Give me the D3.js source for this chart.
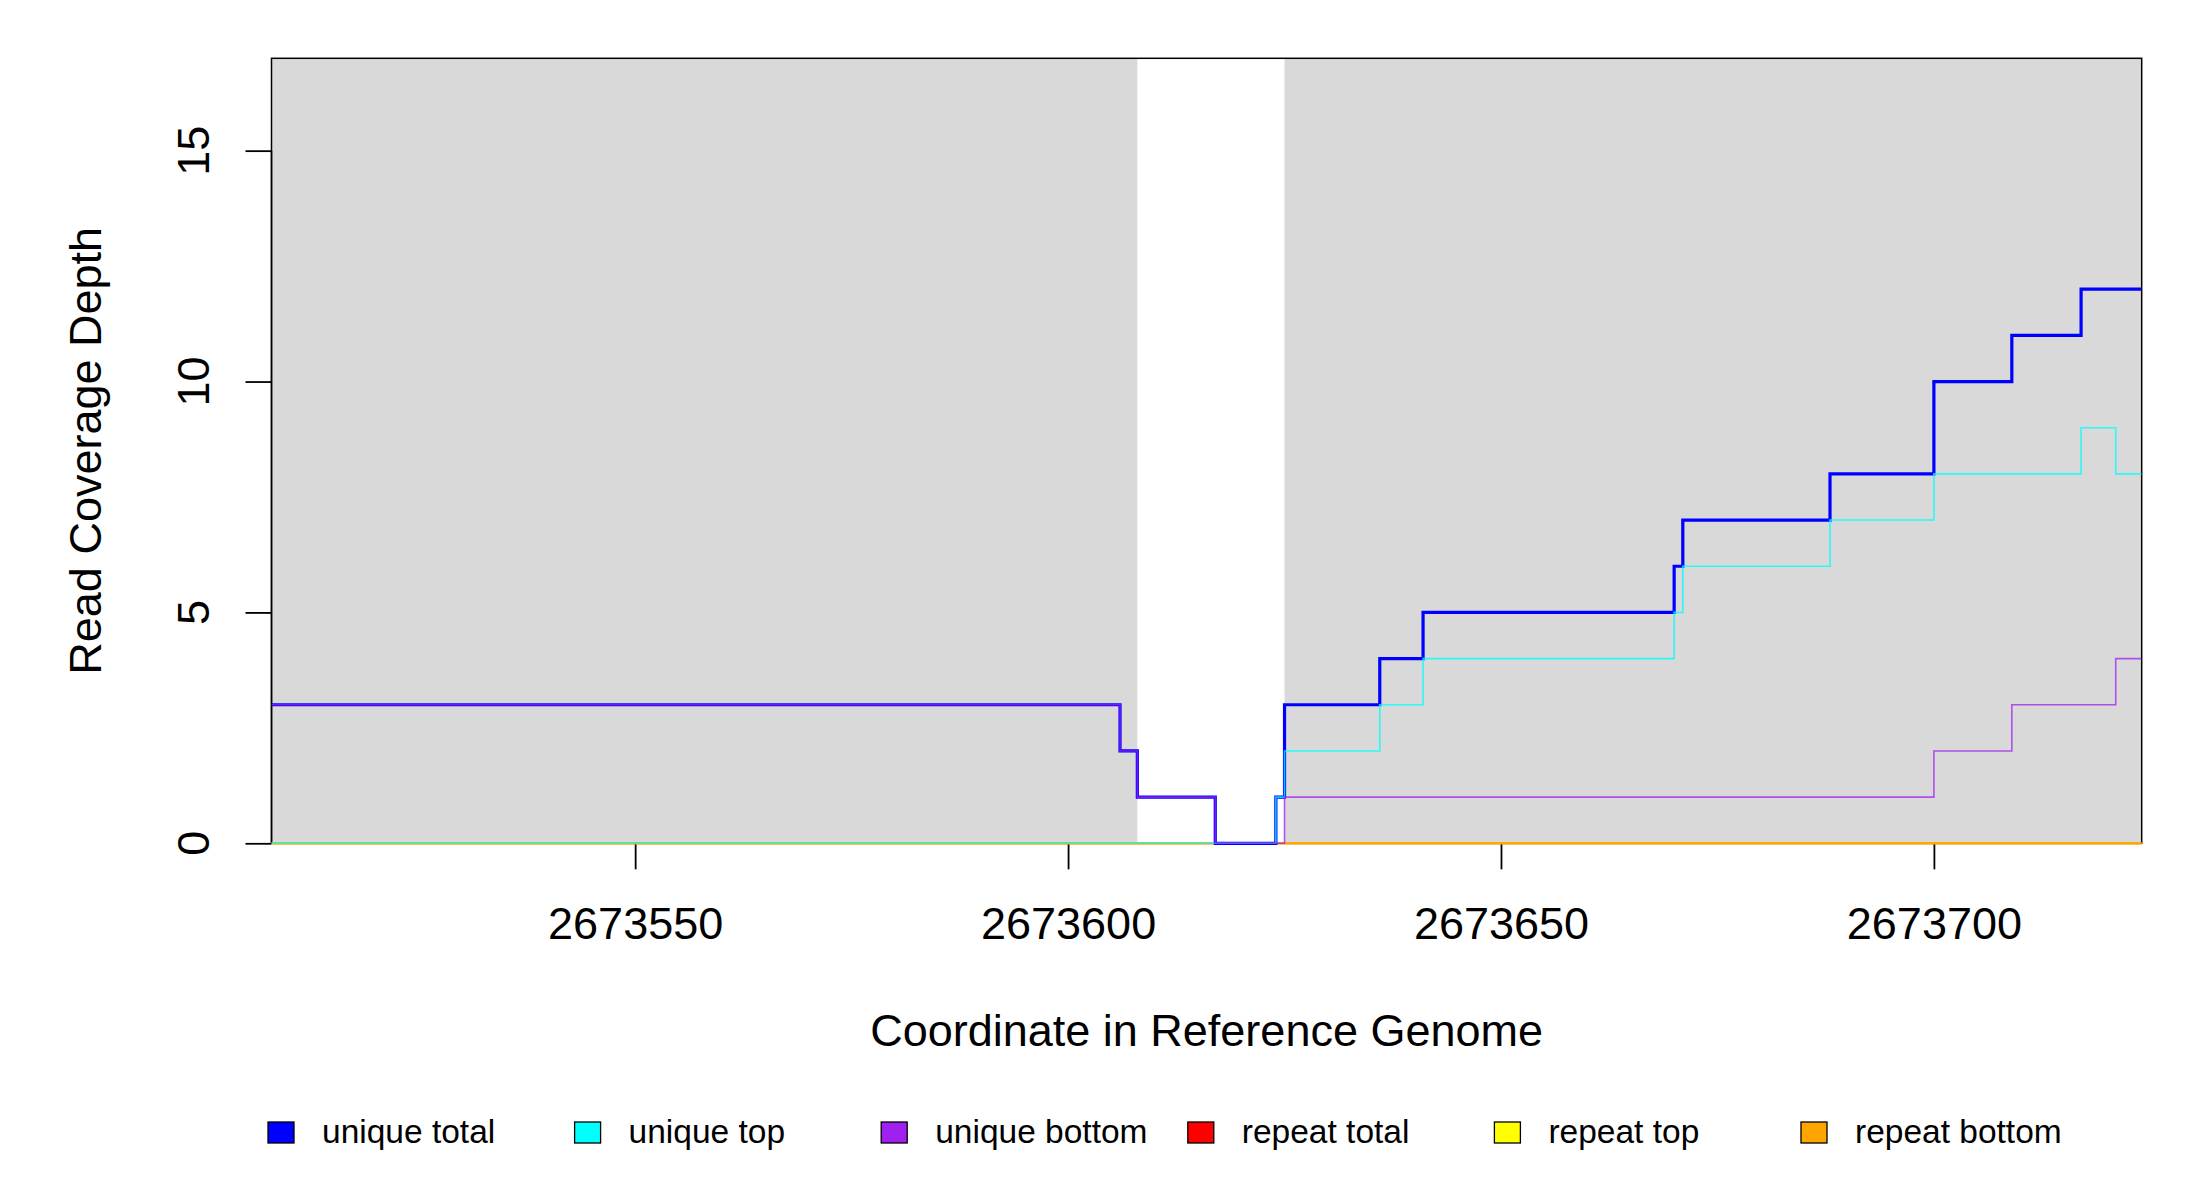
<!DOCTYPE html>
<html>
<head>
<meta charset="utf-8">
<script src="https://cdn.jsdelivr.net/npm/d3@7"></script>
<style>
  body { margin: 0; background: #fff; }
  svg text { font-family: "Liberation Sans", Arial, sans-serif; fill: #000; }
</style>
</head>
<body>
<div id="chart"></div>
<script>
// positions where any coverage value changes (step starts)
const positions = [2673508, 2673606, 2673608, 2673617, 2673624, 2673625, 2673636, 2673641,
    2673670, 2673671, 2673688, 2673700, 2673709, 2673717, 2673721, 2673724];
const uniqueTotal  = [3, 2, 1, 0, 1, 3, 4, 5, 6, 7, 8, 10, 11, 12, 12, 12];
const uniqueTop    = [0, 0, 0, 0, 1, 2, 3, 4, 5, 6, 7, 8, 8, 9, 8, 8];
const uniqueBottom = [3, 2, 1, 0, 0, 1, 1, 1, 1, 1, 1, 2, 3, 3, 4, 4];
const repeatTotal  = [0, 0, 0, 0, 0, 0, 0, 0, 0, 0, 0, 0, 0, 0, 0, 0];
const repeatTop    = [0, 0, 0, 0, 0, 0, 0, 0, 0, 0, 0, 0, 0, 0, 0, 0];
const repeatBottom = [0, 0, 0, 0, 0, 0, 0, 0, 0, 0, 0, 0, 0, 0, 0, 0];

// shaded (gray) regions, in genome coordinates
const shadedStarts = [2673508, 2673625];
const shadedEnds   = [2673608, 2673724];

const xTicks = [2673550, 2673600, 2673650, 2673700];
const yTicks = [0, 5, 10, 15];

const seriesNames = ["unique total", "unique top", "unique bottom", "repeat total", "repeat top", "repeat bottom"];
const seriesValues = [uniqueTotal, uniqueTop, uniqueBottom, repeatTotal, repeatTop, repeatBottom];
const seriesColors = ["#0000ff", "#00ffff", "#a020f0", "#ff0000", "#ffff00", "#ffa500"];

// drawing styles (kept apart from the data)
const lineWidths = [3.2, 1.6, 1.6, 2, 2, 2];
const lineOpacity = [1, 0.8, 0.75, 1, 1, 1];
const drawOrder = [3, 4, 5, 0, 1, 2];

const W = 2200, H = 1200;
const plotLeft = 271.5, plotRight = 2141.7, plotTop = 58.3, plotBottom = 843.3;

const svg = d3.select("#chart").append("svg")
    .attr("width", W)
    .attr("height", H);

svg.append("rect").attr("width", W).attr("height", H).attr("fill", "#fff");

const x = d3.scaleLinear().domain([2673508, 2673724]).range([plotLeft, plotRight]);
const y = d3.scaleLinear().domain([0, 17]).range([plotBottom, plotTop]);

svg.append("clipPath").attr("id", "plotclip")
    .append("rect")
    .attr("x", plotLeft).attr("y", plotTop - 2)
    .attr("width", plotRight - plotLeft).attr("height", plotBottom - plotTop + 4);

// gray regions
svg.selectAll(".shade")
    .data(shadedStarts)
    .enter().append("rect")
    .attr("class", "shade")
    .attr("x", d => x(d))
    .attr("width", (d, i) => x(shadedEnds[i]) - x(d))
    .attr("y", y(17))
    .attr("height", y(0) - y(17))
    .attr("fill", "#d9d9d9");

// box
svg.append("rect")
    .attr("x", plotLeft).attr("y", plotTop)
    .attr("width", plotRight - plotLeft).attr("height", plotBottom - plotTop)
    .attr("fill", "none")
    .attr("stroke", "#000")
    .attr("stroke-width", 1.5);

// x axis
const xAxis = svg.append("g")
    .attr("transform", `translate(0,${plotBottom})`)
    .call(d3.axisBottom(x).tickValues(xTicks).tickSize(26).tickFormat(d3.format("d")));
xAxis.select(".domain").remove();
xAxis.selectAll(".tick line").attr("stroke", "#000").attr("stroke-width", 1.8);
xAxis.selectAll(".tick text")
    .attr("y", 96)
    .attr("dy", null)
    .attr("font-size", 45)
    .attr("font-family", "Liberation Sans, Arial, sans-serif");

// y axis
const yAxis = svg.append("g")
    .attr("transform", `translate(${plotLeft},0)`)
    .call(d3.axisLeft(y).tickValues(yTicks).tickSize(26).tickFormat(""));
yAxis.select(".domain")
    .attr("d", `M0,${y(0)}V${y(15)}`)
    .attr("stroke", "#000").attr("stroke-width", 1.5);
yAxis.selectAll(".tick line").attr("stroke", "#000").attr("stroke-width", 1.8);

svg.selectAll(".ylab")
    .data(yTicks)
    .enter().append("text")
    .attr("class", "ylab")
    .attr("transform", d => `translate(209,${y(d)}) rotate(-90)`)
    .attr("text-anchor", "middle")
    .attr("font-size", 45)
    .text(d => d);

// axis titles
svg.append("text")
    .attr("x", (plotLeft + plotRight) / 2)
    .attr("y", 1046)
    .attr("text-anchor", "middle")
    .attr("font-size", 45)
    .text("Coordinate in Reference Genome");

svg.append("text")
    .attr("transform", `translate(101,${(plotTop + plotBottom) / 2}) rotate(-90)`)
    .attr("text-anchor", "middle")
    .attr("font-size", 45)
    .text("Read Coverage Depth");

// coverage step lines
const line = d3.line()
    .x(d => x(d[0]))
    .y(d => y(d[1]))
    .curve(d3.curveStepAfter);

const plotArea = svg.append("g").attr("clip-path", "url(#plotclip)");

drawOrder.forEach(i => {
    const pts = positions.map((p, j) => [p, seriesValues[i][j]]);
    plotArea.append("path")
        .datum(pts)
        .attr("d", line)
        .attr("fill", "none")
        .attr("stroke", seriesColors[i])
        .attr("stroke-width", lineWidths[i])
        .attr("stroke-opacity", lineOpacity[i]);
});

// legend
const legend = svg.append("g").attr("class", "legend");
const legendItems = legend.selectAll("g")
    .data(seriesNames)
    .enter().append("g")
    .attr("transform", (d, i) => `translate(${268 + i * 306.6},1122)`);

legendItems.append("rect")
    .attr("width", 26)
    .attr("height", 21)
    .attr("fill", (d, i) => seriesColors[i])
    .attr("stroke", "#000")
    .attr("stroke-width", 1.3);

legendItems.append("text")
    .attr("x", 54)
    .attr("y", 21)
    .attr("font-size", 33.5)
    .text(d => d);
</script>
</body>
</html>
